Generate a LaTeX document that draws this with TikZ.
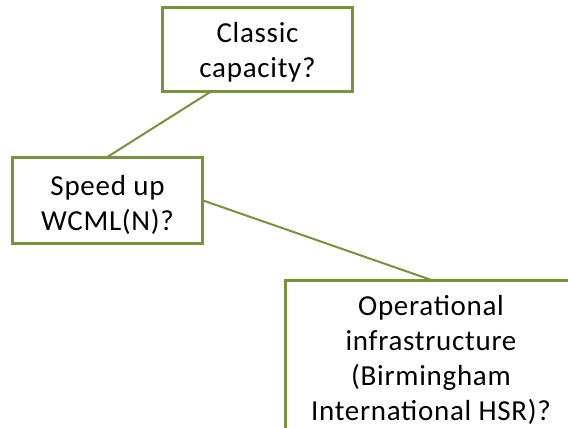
\documentclass[tikz,border=0pt]{standalone}
\usepackage{fontspec}
\setmainfont{Carlito}[LetterSpace=2.5]
\definecolor{olive}{RGB}{119,147,60}
\tikzset{
  qbox/.style={draw=olive, line width=2.25pt, fill=white, inner sep=0pt},
  qtext/.style={anchor=north, inner sep=0pt, align=center,
    font=\fontsize{29}{35}\selectfont, text=black},
  link/.style={draw=olive, line width=2pt}
}
\begin{document}
\begin{tikzpicture}[x=1pt,y=1pt]
\useasboundingbox (0,0) rectangle (568,-428);
\clip (0,0) rectangle (568,-428);
% question boxes
\node[qbox, minimum width=189pt, minimum height=83pt] (classic) at (257.5,-49.5) {};
\node[qbox, minimum width=189pt, minimum height=85pt] (speed) at (107.5,-200.5) {};
\node[qbox, minimum width=290pt, minimum height=200pt] (ops) at (431,-381) {};
% connectors
\draw[link] ([xshift=-47.5pt]classic.south) -- (speed.north);
\draw[link] (speed.east) -- (ops.north);
% redraw box outlines over the connector ends
\draw[draw=olive, line width=2.25pt] (classic.south west) rectangle (classic.north east);
\draw[draw=olive, line width=2.25pt] (speed.south west) rectangle (speed.north east);
\draw[draw=olive, line width=2.25pt] (ops.south west) rectangle (ops.north east);
% labels
\node[qtext] (classicT) at ([yshift=-15pt]classic.north) {Classic\\capacity?};
\node[qtext] (speedT) at ([yshift=-18pt]speed.north) {Speed up\\WCML(N)?};
\node[qtext] (opsT) at ([yshift=-15pt]ops.north) {Operational\\infrastructure\\(Birmingham\\International HSR)?};
\end{tikzpicture}
\end{document}
